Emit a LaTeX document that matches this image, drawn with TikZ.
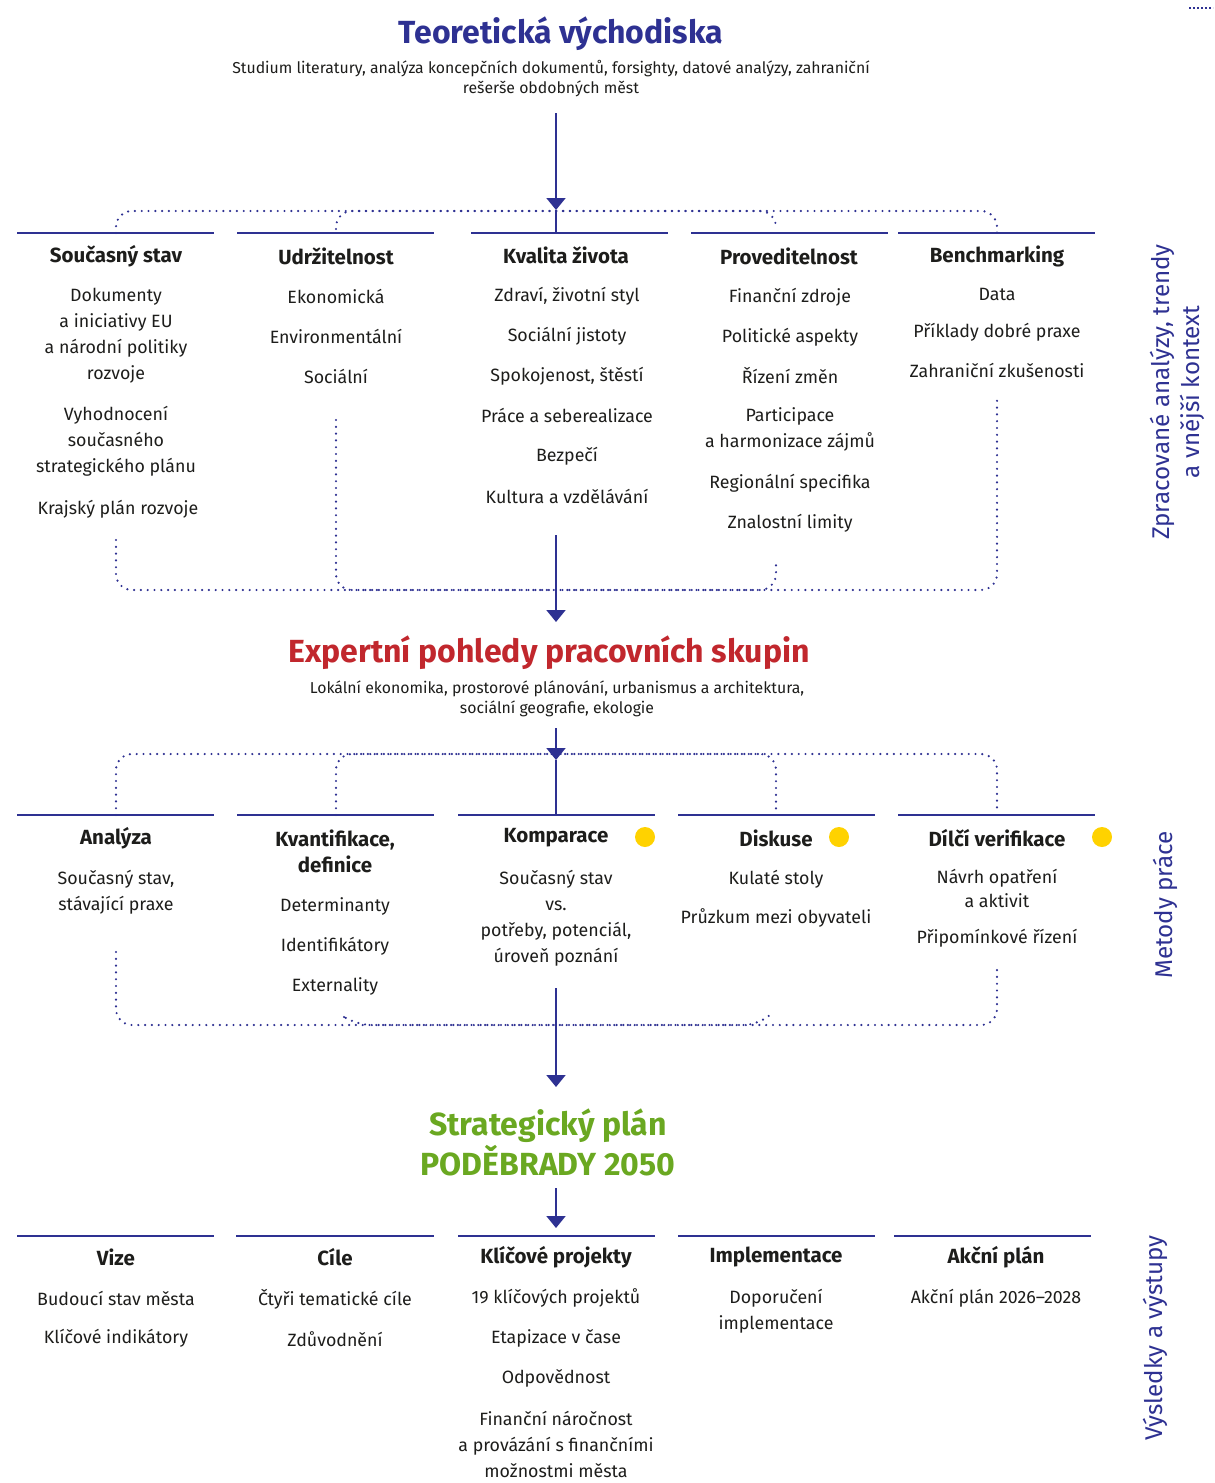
\documentclass[tikz,border=0pt]{standalone}
\usepackage{fontspec}
\setmainfont{Fira Sans}
\usetikzlibrary{arrows.meta}
\definecolor{navy}{HTML}{2E3192}
\definecolor{redt}{HTML}{C1272D}
\definecolor{greent}{HTML}{6AA821}
\definecolor{yel}{HTML}{FFD200}
\definecolor{txt}{HTML}{1D1D1B}
\begin{document}
\begin{tikzpicture}[x=1pt,y=-1pt,
  ttl/.style={font=\fontsize{32}{40}\selectfont\bfseries, inner sep=0, align=center},
  sub/.style={font=\fontsize{15.8}{20}\selectfont, align=center, inner sep=0, text=txt},
  hd/.style={font=\fontsize{20.5}{26}\selectfont\bfseries, inner sep=0, text=txt, align=center},
  it/.style={font=\fontsize{17.8}{26}\selectfont, inner sep=0, text=txt, align=center},
  sepl/.style={draw=navy, line width=1.3pt},
  dotl/.style={draw=navy, line width=2.4pt, line cap=round, dash pattern=on 0pt off 6.8pt, rounded corners=16pt},
  arr/.style={draw=navy, line width=2pt, -{Triangle[width=19pt,length=12pt]}},
  plain/.style={draw=navy, line width=2pt},
  side/.style={font=\fontsize{24.2}{30}\selectfont, text=navy, rotate=90, align=center, inner sep=0},
  ydot/.style={circle, fill=yel, minimum size=20pt, inner sep=0}]
\useasboundingbox (0,0) rectangle (1215,1483);

% ---------- Section 1 ----------
\node[ttl, text=navy] (t1) at (561,34) {Teoretická východiska};
\node[sub] (s1) at (551,79) {Studium literatury, analýza koncepčních dokumentů, forsighty, datové analýzy, zahraniční\\rešerše obdobných měst};
\coordinate (a1s) at (556,113);
\coordinate (a1e) at (556,210);
\coordinate (a1b) at (556,233);
\draw[arr] (a1s) -- (a1e);
\draw[plain] (a1e) -- (a1b);

\foreach \a/\b/\n in {17/214/1,237/434/2,471/668/3,691/888/4,898/1095/5}{
  \coordinate (L1a\n) at (\a,233); \coordinate (L1b\n) at (\b,233);
  \draw[sepl] (L1a\n) -- (L1b\n);}

% dotted connectors top
\coordinate (d1a) at (116,233); \coordinate (d1b) at (116,211); \coordinate (d1c) at (776,211); \coordinate (d1d) at (776,227);
\coordinate (d2a) at (336,229); \coordinate (d2b) at (336,211); \coordinate (d2c) at (997,211); \coordinate (d2d) at (997,233);
\draw[dotl] (d1a) -- (d1b) -- (d1c) -- (d1d);
\draw[dotl] (d2a) -- (d2b) -- (d2c) -- (d2d);

\node[hd] (h11) at (116,256) {Současný stav};
\node[hd] (h12) at (336,256) {Udržitelnost};
\node[hd] (h13) at (566,255) {Kvalita života};
\node[hd] (h14) at (789,256) {Proveditelnost};
\node[hd] (h15) at (997,256) {Benchmarking};

\node[it] (i111) at (116,336) {Dokumenty\\a iniciativy EU\\a národní politiky\\rozvoje};
\node[it] (i112) at (116,441.5) {Vyhodnocení\\současného\\strategického plánu};
\node[it] (i113) at (118,509) {Krajský plán rozvoje};

\node[it] (i121) at (336,296) {Ekonomická};
\node[it] (i122) at (336,336) {Environmentální};
\node[it] (i123) at (336,376) {Sociální};

\node[it] (i131) at (567,296) {Zdraví, životní styl};
\node[it] (i132) at (567,336) {Sociální jistoty};
\node[it] (i133) at (567,376) {Spokojenost, štěstí};
\node[it] (i134) at (567,415) {Práce a seberealizace};
\node[it] (i135) at (567,456) {Bezpečí};
\node[it] (i136) at (567,496) {Kultura a vzdělávání};

\node[it] (i141) at (790,297) {Finanční zdroje};
\node[it] (i142) at (790,337) {Politické aspekty};
\node[it] (i143) at (790,376) {Řízení změn};
\node[it] (i144) at (790,429) {Participace\\a harmonizace zájmů};
\node[it] (i145) at (790,483) {Regionální specifika};
\node[it] (i146) at (790,523) {Znalostní limity};

\node[it] (i151) at (997,294) {Data};
\node[it] (i152) at (997,332) {Příklady dobré praxe};
\node[it] (i153) at (997,370) {Zahraniční zkušenosti};

% dotted connectors bottom
\coordinate (e1a) at (116,540); \coordinate (e1b) at (116,590); \coordinate (e1c) at (776,590); \coordinate (e1d) at (776,565);
\coordinate (e2a) at (336,420); \coordinate (e2b) at (336,590); \coordinate (e2c) at (997,590); \coordinate (e2d) at (997,398);
\draw[dotl] (e1a) -- (e1b) -- (e1c) -- (e1d);
\draw[dotl] (e2a) -- (e2b) -- (e2c) -- (e2d);

\coordinate (a2s) at (556,535);
\coordinate (a2e) at (556,622);
\draw[arr] (a2s) -- (a2e);

% ---------- Section 2 ----------
\node[ttl, text=redt] (t2) at (549,653) {Expertní pohledy pracovních skupin};
\node[sub] (s2) at (557,699) {Lokální ekonomika, prostorové plánování, urbanismus a architektura,\\sociální geografie, ekologie};

\coordinate (a3s) at (556,728);
\coordinate (a3e) at (556,760);
\coordinate (a3b) at (556,815);
\draw[arr] (a3s) -- (a3e);
\draw[plain] (a3e) -- (a3b);

\foreach \a/\b/\n in {17/214/1,237/434/2,458/655/3,678/875/4,898/1095/5}{
  \coordinate (L2a\n) at (\a,815); \coordinate (L2b\n) at (\b,815);
  \draw[sepl] (L2a\n) -- (L2b\n);}

\coordinate (f1a) at (116,815); \coordinate (f1b) at (116,754); \coordinate (f1c) at (776,754); \coordinate (f1d) at (776,810);
\coordinate (f2a) at (336,815); \coordinate (f2b) at (336,754); \coordinate (f2c) at (997,754); \coordinate (f2d) at (997,812);
\draw[dotl] (f1a) -- (f1b) -- (f1c) -- (f1d);
\draw[dotl] (f2a) -- (f2b) -- (f2c) -- (f2d);

\node[hd] (h21) at (116,838) {Analýza};
\node[hd] (h22) at (335,851) {Kvantifikace,\\definice};
\node[hd] (h23) at (556,838) {Komparace};
\node[hd] (h24) at (776,838) {Diskuse};
\node[hd] (h25) at (997,838) {Dílčí verifikace};
\node[ydot] (y1) at (645,837) {};
\node[ydot] (y2) at (839,837) {};
\node[ydot] (y3) at (1102,837) {};

\node[it] (i211) at (116,892) {Současný stav,\\stávající praxe};
\node[it] (i221) at (335,906) {Determinanty};
\node[it] (i222) at (335,946) {Identifikátory};
\node[it] (i223) at (335,986) {Externality};
\node[it] (i231) at (556,918.5) {Současný stav\\vs.\\potřeby, potenciál,\\úroveň poznání};
\node[it] (i241) at (776,879) {Kulaté stoly};
\node[it] (i242) at (776,918) {Průzkum mezi obyvateli};
\node[it, font=\fontsize{17.8}{24}\selectfont] (i251) at (997,888) {Návrh opatření\\a aktivit};
\node[it] (i252) at (997,938) {Připomínkové řízení};

\coordinate (g1a) at (116,952); \coordinate (g1b) at (116,1025); \coordinate (g1c) at (760,1025); \coordinate (g1d) at (771,1014);
\coordinate (g2a) at (344,1017); \coordinate (g2b) at (355,1025); \coordinate (g2c) at (997,1025); \coordinate (g2d) at (997,968);
\draw[dotl] (g1a) -- (g1b) -- (g1c) [sharp corners] -- (g1d);
\draw[dotl] (g2a) -- (g2b) -- (g2c) -- (g2d);

\coordinate (a4s) at (556,988);
\coordinate (a4e) at (556,1087);
\draw[arr] (a4s) -- (a4e);

% ---------- Section 3 ----------
\node[ttl, text=greent] (t3) at (548,1142) {Strategický plán\\PODĚBRADY 2050};
\coordinate (a5s) at (556,1188);
\coordinate (a5e) at (556,1228);
\draw[arr] (a5s) -- (a5e);

\foreach \a/\b/\n in {17/214/1,236/434/2,458/655/3,678/875/4,894/1091/5}{
  \coordinate (L3a\n) at (\a,1236); \coordinate (L3b\n) at (\b,1236);
  \draw[sepl] (L3a\n) -- (L3b\n);}

\node[hd] (h31) at (116,1257) {Vize};
\node[hd] (h32) at (335,1257) {Cíle};
\node[hd] (h33) at (556,1257) {Klíčové projekty};
\node[hd] (h34) at (776,1257) {Implementace};
\node[hd] (h35) at (996,1257) {Akční plán};

\node[it] (i311) at (116,1298) {Budoucí stav města};
\node[it] (i312) at (116,1338) {Klíčové indikátory};
\node[it] (i321) at (335,1299) {Čtyři tematické cíle};
\node[it] (i322) at (335,1339) {Zdůvodnění};
\node[it] (i331) at (556,1298) {19 klíčových projektů};
\node[it] (i332) at (556,1338) {Etapizace v čase};
\node[it] (i333) at (556,1378) {Odpovědnost};
\node[it] (i334) at (556,1444) {Finanční náročnost\\a provázání s finančními\\možnostmi města};
\node[it] (i341) at (776,1311) {Doporučení\\implementace};
\node[it] (i351) at (996,1298) {Akční plán 2026–2028};

% ---------- side labels ----------
\node[side] (r1) at (1177,392) {Zpracované analýzy, trendy\\a vnější kontext};
\node[side] (r2) at (1165,905) {Metody práce};
\node[side] (r3) at (1155,1338) {Výsledky a výstupy};

\coordinate (c1) at (1189,8); \coordinate (c2) at (1213,8);
\draw[navy, line width=2pt, dash pattern=on 2pt off 2pt] (c1) -- (c2);
\end{tikzpicture}
\end{document}
